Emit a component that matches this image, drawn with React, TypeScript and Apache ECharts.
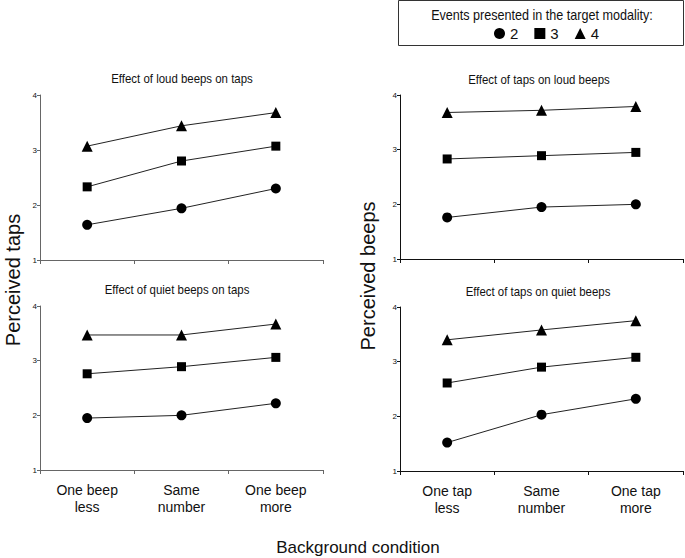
import React, { useEffect, useRef } from "react";
import * as echarts from "echarts";

const beepCategories = ["One beep\nless", "Same\nnumber", "One beep\nmore"];
const tapCategories = ["One tap\nless", "Same\nnumber", "One tap\nmore"];
const seriesNames = ["2", "3", "4"];
const seriesSymbols = ["circle", "rect", "triangle"];
const seriesSizes = [10, 9, 11];

const panelTitles = [
  "Effect of loud beeps on taps",
  "Effect of taps on loud beeps",
  "Effect of quiet beeps on taps",
  "Effect of taps on quiet beeps",
];

// values per panel: [events2, events3, events4]
const loudBeepsOnTaps2 = [1.64, 1.94, 2.3];
const loudBeepsOnTaps3 = [2.33, 2.8, 3.07];
const loudBeepsOnTaps4 = [3.07, 3.44, 3.68];

const tapsOnLoudBeeps2 = [1.76, 1.95, 2.0];
const tapsOnLoudBeeps3 = [2.83, 2.89, 2.95];
const tapsOnLoudBeeps4 = [3.68, 3.72, 3.79];

const quietBeepsOnTaps2 = [1.95, 2.0, 2.22];
const quietBeepsOnTaps3 = [2.76, 2.89, 3.06];
const quietBeepsOnTaps4 = [3.47, 3.47, 3.67];

const tapsOnQuietBeeps2 = [1.52, 2.03, 2.32];
const tapsOnQuietBeeps3 = [2.61, 2.9, 3.08];
const tapsOnQuietBeeps4 = [3.4, 3.58, 3.75];

const yTicks = [1, 2, 3, 4];

const FONT = "'Liberation Sans', Arial, sans-serif";

export default function App() {
  const ref = useRef<HTMLDivElement>(null);
  useEffect(() => {
    if (!ref.current) return;
    const chart = echarts.init(ref.current, undefined, { renderer: "svg" });

    const panelData = [
      [loudBeepsOnTaps2, loudBeepsOnTaps3, loudBeepsOnTaps4],
      [tapsOnLoudBeeps2, tapsOnLoudBeeps3, tapsOnLoudBeeps4],
      [quietBeepsOnTaps2, quietBeepsOnTaps3, quietBeepsOnTaps4],
      [tapsOnQuietBeeps2, tapsOnQuietBeeps3, tapsOnQuietBeeps4],
    ];
    const grids = [
      { left: 40, top: 95, width: 283, height: 165 },
      { left: 400, top: 95, width: 283, height: 164 },
      { left: 40, top: 306, width: 283, height: 164 },
      { left: 400, top: 307, width: 283, height: 164 },
    ];
    const axisColors = ["#666", "#111", "#666", "#111"];
    const cats = [beepCategories, tapCategories, beepCategories, tapCategories];

    const xAxis = grids.map((_, i) => ({
      type: "category",
      gridIndex: i,
      data: cats[i],
      boundaryGap: true,
      axisLine: { lineStyle: { color: axisColors[i], width: 1 } },
      axisTick: { show: true, length: 4, lineStyle: { color: axisColors[i] } },
      axisLabel: {
        show: i >= 2,
        fontFamily: FONT,
        fontSize: 14,
        lineHeight: 17,
        color: "#111",
        margin: 11,
        interval: 0,
      },
    }));
    const yAxis = grids.map((_, i) => ({
      type: "value",
      gridIndex: i,
      min: yTicks[0],
      max: yTicks[yTicks.length - 1],
      interval: 1,
      splitLine: { show: false },
      axisLine: { show: true, lineStyle: { color: axisColors[i], width: 1 } },
      axisTick: { show: true, length: 3, lineStyle: { color: axisColors[i] } },
      axisLabel: { fontFamily: FONT, fontSize: 8, color: "#111", margin: 3 },
    }));

    const series: any[] = [];
    panelData.forEach((arrs, p) => {
      arrs.forEach((vals, s) => {
        series.push({
          type: "line",
          name: seriesNames[s],
          xAxisIndex: p,
          yAxisIndex: p,
          data: vals,
          symbol: seriesSymbols[s],
          symbolSize: seriesSizes[s],
          showAllSymbol: true,
          lineStyle: { color: "#222", width: 1 },
          itemStyle: { color: "#000" },
          emphasis: { disabled: true },
        });
      });
    });

    const titleCenters = [
      { x: 182, y: 79 },
      { x: 539, y: 80 },
      { x: 177, y: 290 },
      { x: 538, y: 292 },
    ];

    const titleTexts = panelTitles.map((t, i) => ({
      type: "text",
      x: titleCenters[i].x,
      y: titleCenters[i].y,
      scaleX: 0.88,
      style: {
        text: t,
        fontFamily: FONT,
        fontSize: 13,
        fill: "#111",
        align: "center",
        verticalAlign: "middle",
      },
    }));

    chart.setOption({
      animation: false,
      backgroundColor: "#fff",
      legend: {
        left: 489,
        top: 21,
        itemWidth: 11,
        itemHeight: 11,
        itemGap: 16,
        selectedMode: false,
        data: seriesNames.map((n, i) => ({ name: n, icon: seriesSymbols[i] })),
        textStyle: { fontFamily: FONT, fontSize: 15, color: "#111" },
        itemStyle: { color: "#000" },
      },
      grid: grids,
      xAxis,
      yAxis,
      series,
      graphic: [
        {
          type: "rect",
          shape: { x: 398.5, y: 0.5, width: 285, height: 45 },
          style: { fill: "none", stroke: "#333", lineWidth: 1 },
          silent: true,
        },
        {
          type: "text",
          x: 542,
          y: 15,
          scaleX: 0.9,
          style: {
            text: "Events presented in the target modality:",
            fontFamily: FONT,
            fontSize: 14,
            fill: "#111",
            align: "center",
            verticalAlign: "middle",
          },
        },
        ...titleTexts,
        {
          type: "text",
          x: 13,
          y: 280,
          rotation: Math.PI / 2,
          style: {
            text: "Perceived taps",
            fontFamily: FONT,
            fontSize: 20,
            fill: "#111",
            align: "center",
            verticalAlign: "middle",
          },
        },
        {
          type: "text",
          x: 368,
          y: 276,
          rotation: Math.PI / 2,
          style: {
            text: "Perceived beeps",
            fontFamily: FONT,
            fontSize: 20,
            fill: "#111",
            align: "center",
            verticalAlign: "middle",
          },
        },
        {
          type: "text",
          x: 358,
          y: 547,
          style: {
            text: "Background condition",
            fontFamily: FONT,
            fontSize: 17,
            fill: "#111",
            align: "center",
            verticalAlign: "middle",
          },
        },
      ],
    });
    return () => chart.dispose();
  }, []);
  return (
    <div
      ref={ref}
      style={{ position: "fixed", left: 0, top: 0, width: 685, height: 558 }}
    />
  );
}
